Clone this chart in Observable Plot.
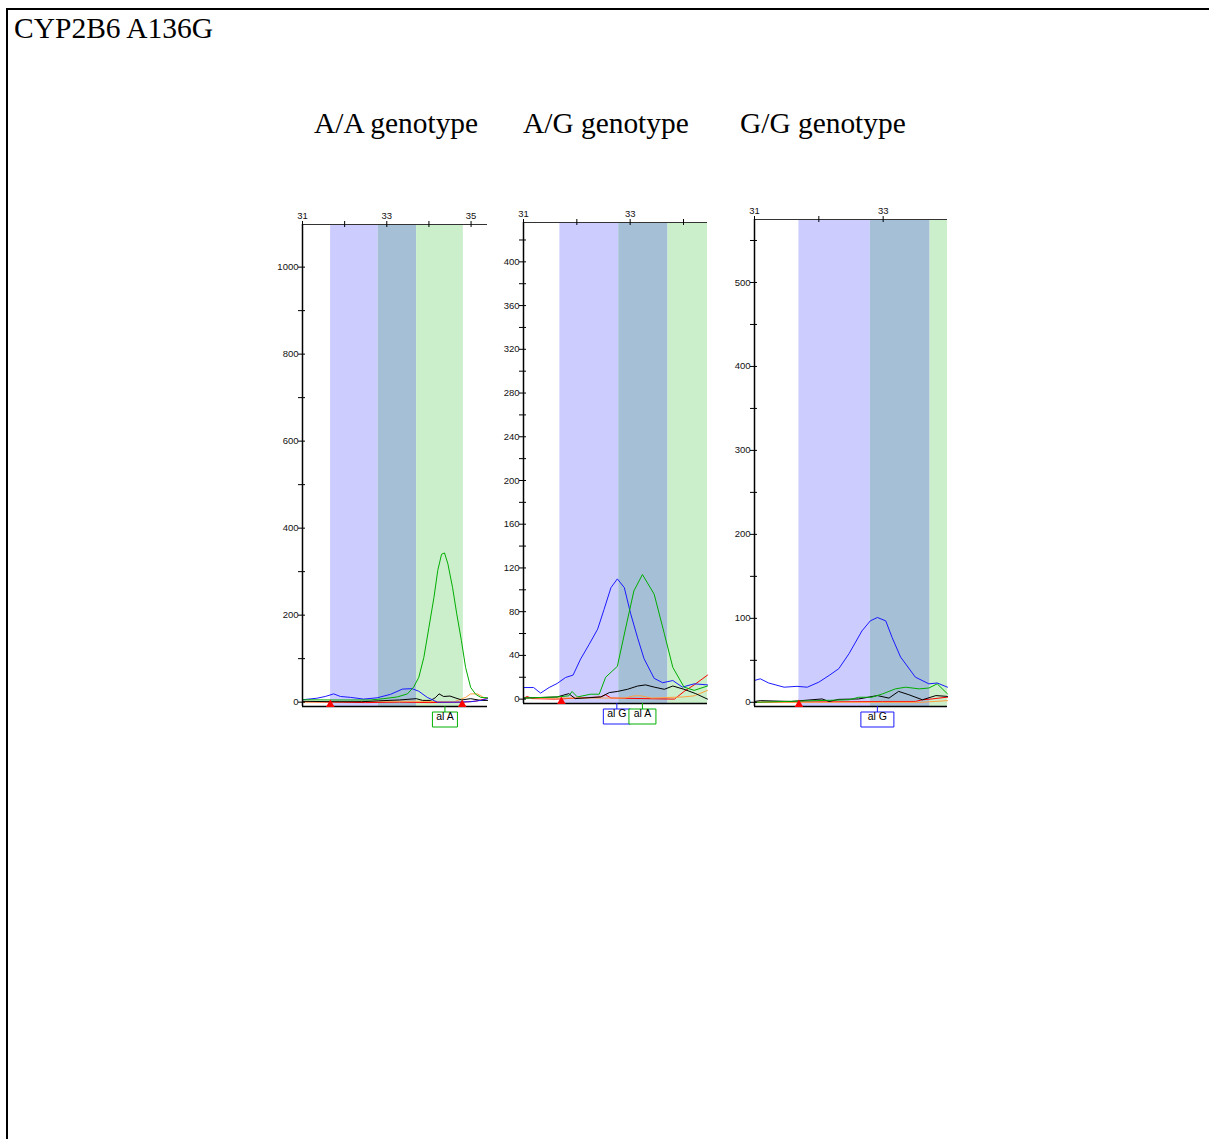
<!DOCTYPE html>
<html>
<head>
<meta charset="utf-8">
<script src="https://cdn.jsdelivr.net/npm/d3@7"></script>
<script src="https://cdn.jsdelivr.net/npm/@observablehq/plot@0.6"></script>
<style>
  html, body { margin: 0; padding: 0; background: #fff; overflow: hidden; }
  #page { position: relative; width: 1209px; height: 1139px; overflow: hidden; }
  .box { position: absolute; left: 6px; top: 8px; width: 1400px; height: 1400px;
         border-left: 2px solid #000; border-top: 2px solid #000; }
  .serif { position: absolute; font-family: "Times New Roman", "Liberation Serif", serif;
           color: #000; line-height: 1; white-space: nowrap; }
  .panel { position: absolute; }
</style>
</head>
<body>
<div id="page">
  <div class="box"></div>
  <div class="serif" style="left:14px; top:14px; font-size:29.5px;">CYP2B6 A136G</div>
  <div class="serif" style="left:314px; top:109px; font-size:29.4px;">A/A genotype</div>
  <div class="serif" style="left:523px; top:109px; font-size:29.4px;">A/G genotype</div>
  <div class="serif" style="left:740px; top:109px; font-size:29.4px;">G/G genotype</div>
</div>
<script>
// ---- Electropherogram traces: [size position, RFU] per dye ----

// A/A genotype
const aaBlue = [[31.00,5.5],[31.34,9],[31.54,13],[31.74,19],[31.90,13],[32.14,11],[32.45,7],[32.77,10],[33.09,18],[33.37,30],[33.60,31],[33.76,25],[33.96,11],[34.20,0],[34.68,0],[34.99,1],[35.23,4],[35.39,8]];
const aaGreen = [[31.00,5.5],[31.66,5],[32.61,5],[32.93,8],[33.25,12],[33.49,19],[33.64,35],[33.76,57],[33.88,103],[34.00,172],[34.12,241],[34.21,303],[34.30,340],[34.37,343],[34.45,318],[34.56,264],[34.66,203],[34.77,142],[34.87,80],[34.99,34],[35.11,18],[35.23,11],[35.39,10]];
const aaBlack = [[31.00,2],[31.70,1],[32.40,1],[32.80,3],[33.30,5],[33.70,8],[33.85,4],[34.04,4],[34.15,10],[34.24,19],[34.35,13],[34.50,14],[34.62,10],[34.78,5],[34.99,8],[35.23,4],[35.39,4]];
const aaRed = [[31.00,1],[31.66,0],[32.50,-1],[33.30,0],[34.00,-1],[34.80,0],[35.10,2],[35.23,5],[35.39,9]];
const aaOrange = [[31.00,0],[32.80,2],[33.80,2],[34.60,1],[34.87,11],[34.99,19],[35.15,19],[35.31,10],[35.39,9]];

// A/G genotype
const agBlue = [[31.01,10.6],[31.19,10.6],[31.32,5.5],[31.48,10.6],[31.63,14.3],[31.79,19.8],[31.93,22],[32.07,36.6],[32.23,50],[32.39,64],[32.51,82],[32.64,102],[32.76,110],[32.89,102],[33.01,78],[33.14,56],[33.26,37],[33.45,19],[33.61,15],[33.80,17],[33.98,11],[34.20,14],[34.45,13]];
const agGreen = [[31.01,1],[31.63,2],[31.85,3],[31.91,7],[32.01,2],[32.26,4.5],[32.42,4.5],[32.54,20],[32.76,30],[32.92,66],[33.07,99],[33.23,114],[33.45,96],[33.64,60],[33.80,29],[34.01,11],[34.20,8],[34.45,12]];
const agBlack = [[31.01,1],[31.63,2],[31.85,5],[31.97,0.5],[32.45,2],[32.61,6],[32.76,7],[32.95,9],[33.14,12],[33.29,13],[33.45,11],[33.64,9],[33.80,12],[34.01,9],[34.23,5],[34.45,0]];
const agRed = [[31.01,1],[31.07,2.5],[31.16,0.5],[31.60,0],[32.45,2],[32.54,4],[32.64,1],[33.83,0],[34.01,7],[34.20,13],[34.45,22]];
const agOrange = [[31.01,1],[32.90,1],[33.07,3],[33.20,3],[33.40,1],[34.00,2],[34.20,3],[34.45,8]];

// G/G genotype
const ggBlue = [[31.00,26],[31.09,28],[31.22,23],[31.46,18],[31.66,19],[31.82,18],[32.00,24],[32.16,32],[32.31,40],[32.47,58],[32.67,85],[32.80,97],[32.91,101],[33.04,97],[33.14,77],[33.27,54],[33.50,30],[33.71,22],[33.84,23],[34.00,18]];
const ggGreen = [[31.00,0],[31.97,2],[32.47,3],[32.62,6],[32.82,6],[32.99,10],[33.19,16],[33.35,18],[33.56,16],[33.71,17],[33.84,22],[34.00,10]];
const ggBlack = [[31.00,1],[31.09,2],[31.57,1],[32.05,4],[32.16,1],[32.31,3.5],[32.62,4],[32.91,8],[33.09,5],[33.24,13],[33.40,9],[33.61,3],[33.82,8],[34.00,7]];
const ggRed = [[31.00,0],[32.99,1],[33.50,1],[33.61,3],[33.76,4],[33.98,6],[34.00,6]];
const ggOrange = [[31.00,0],[33.60,0],[34.00,2]];

// Allele bins (G bin, overlap, A bin) as size edges
const aaBins = [31.667, 32.795, 33.707, 34.817];
const agBins = [31.683, 32.786, 33.710, 34.900];
const ggBins = [31.690, 32.800, 33.730, 34.900];

// Allele calls and their sizes
const aaCalls = [{allele: "A", size: 34.38}];
const agCalls = [{allele: "G", size: 32.75}, {allele: "A", size: 33.23}];
const ggCalls = [{allele: "G", size: 32.91}];

// Edit markers on the baseline
const aaMarkers = [31.66, 34.79];
const agMarkers = [31.71];
const ggMarkers = [31.69];

// Axis ticks
const aaYTicks = d3.range(0, 1001, 100), aaYLabels = d3.range(0, 1001, 200);
const agYTicks = d3.range(0, 421, 20),  agYLabels = d3.range(0, 401, 40);
const ggYTicks = d3.range(0, 551, 50),  ggYLabels = d3.range(0, 501, 100);
const aaXTicks = [31, 32, 33, 34, 35], aaXLabels = [31, 33, 35];
const agXTicks = [31, 32, 33, 34],     agXLabels = [31, 33];
const ggXTicks = [31, 32, 33],         ggXLabels = [31, 33];

// ---- Styles ----
const dyeColor = { blue: "#1a1aff", green: "#00ad00", black: "#000000", red: "#ff0000", orange: "#ffa040" };
const binFill = ["#ccccff", "#a5bfd6", "#cbefcb"];
const callColor = { G: "#1a1aff", A: "#00b000" };
const plain = d => String(d);

function boxSymbol(w) {
  return {
    draw(ctx) {
      ctx.moveTo(0, -7.5);
      ctx.lineTo(0, -13.5);
      ctx.rect(-w / 2, -7.5, w, 15);
    }
  };
}

function panel({left, top, w, h, xDomain, yDomain, traces, bins, calls, markers,
                yTicks, yLabels, xTicks, xLabels, boxW}) {
  const ML = 34, MR = 6, MT = 24, MB = 32;
  const marks = [];
  // allele bins behind the traces
  d3.pairs(bins).forEach(([a, b], i) => {
    marks.push(Plot.rect([{from: a, to: b}], {x1: "from", x2: "to", fill: binFill[i], clip: true}));
  });
  for (const [dye, pts] of traces) {
    marks.push(Plot.line(pts, {x: d => d[0], y: d => d[1], stroke: dyeColor[dye], strokeWidth: 1}));
  }
  marks.push(
    Plot.ruleY([yDomain[1]], {stroke: "#333", strokeWidth: 1}),
    Plot.ruleY([yDomain[0]], {stroke: "#000", strokeWidth: 1.5}),
    Plot.ruleX([xDomain[0]], {stroke: "#000", strokeWidth: 1.5}),
    Plot.tickY(yTicks, {y: d => d, stroke: "#000", insetLeft: -4, insetRight: w - 3}),
    Plot.tickX(xTicks, {x: d => d, stroke: "#000", insetTop: -3, insetBottom: h - 3}),
    Plot.axisY({ticks: yLabels, tickFormat: plain, tickSize: 0, tickPadding: 4, label: null, fontSize: 9.5, fill: "#111"}),
    Plot.axisX({anchor: "top", ticks: xLabels, tickFormat: plain, tickSize: 0, tickPadding: 6, label: null, fontSize: 9.5, fill: "#111"}),
    Plot.dot(markers, {x: d => d, frameAnchor: "bottom", dy: -2, symbol: "triangle", r: 3.2, fill: "#ff0000", stroke: null})
  );
  for (const allele of ["G", "A"]) {
    const sel = calls.filter(c => c.allele === allele);
    if (!sel.length) continue;
    marks.push(
      Plot.dot(sel, {x: "size", frameAnchor: "bottom", dy: 13, symbol: boxSymbol(boxW),
        fill: "#fff", stroke: callColor[allele], strokeWidth: 1}),
      Plot.text(sel, {x: "size", text: d => "al " + d.allele, frameAnchor: "bottom", dy: 13,
        fontSize: 10.5, fill: "#000"})
    );
  }
  const svg = Plot.plot({
    width: ML + w + MR, height: MT + h + MB,
    marginLeft: ML, marginRight: MR, marginTop: MT, marginBottom: MB,
    x: {domain: xDomain},
    y: {domain: yDomain},
    style: {fontFamily: "Arial, 'Liberation Sans', sans-serif", fontSize: "9px", color: "#000",
            background: "transparent", overflow: "visible"},
    marks
  });
  const holder = document.createElement("div");
  holder.className = "panel";
  holder.style.left = (left - ML) + "px";
  holder.style.top = (top - MT) + "px";
  holder.appendChild(svg);
  document.getElementById("page").appendChild(holder);
}

panel({left: 302, top: 224, w: 185, h: 482, xDomain: [31, 35.39], yDomain: [-10, 1098],
  traces: [["red", aaRed], ["orange", aaOrange], ["black", aaBlack], ["blue", aaBlue], ["green", aaGreen]],
  bins: aaBins, calls: aaCalls, markers: aaMarkers,
  yTicks: aaYTicks, yLabels: aaYLabels, xTicks: aaXTicks, xLabels: aaXLabels, boxW: 25});

panel({left: 523, top: 222, w: 184, h: 481, xDomain: [31, 34.45], yDomain: [-4, 436],
  traces: [["red", agRed], ["orange", agOrange], ["black", agBlack], ["blue", agBlue], ["green", agGreen]],
  bins: agBins, calls: agCalls, markers: agMarkers,
  yTicks: agYTicks, yLabels: agYLabels, xTicks: agXTicks, xLabels: agXLabels, boxW: 27});

panel({left: 754, top: 219, w: 193, h: 487, xDomain: [31, 34.0], yDomain: [-5, 575],
  traces: [["red", ggRed], ["orange", ggOrange], ["black", ggBlack], ["green", ggGreen], ["blue", ggBlue]],
  bins: ggBins, calls: ggCalls, markers: ggMarkers,
  yTicks: ggYTicks, yLabels: ggYLabels, xTicks: ggXTicks, xLabels: ggXLabels, boxW: 33});
</script>
</body>
</html>
